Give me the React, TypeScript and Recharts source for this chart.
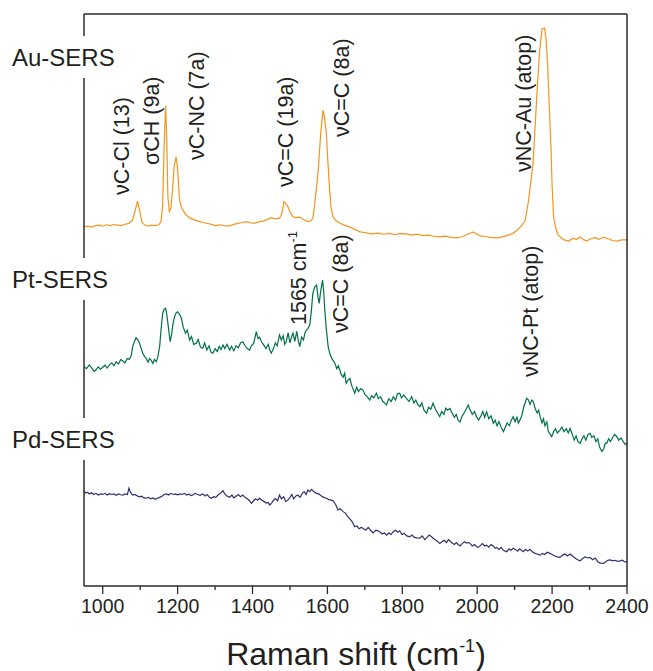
import React from 'react';
import { LineChart, Line, XAxis, YAxis } from 'recharts';

// Raman shift (cm-1) vs intensity (a.u., stacked offsets as drawn)
const auSpectrum: [number, number][] = [
  [950, 12.56], [960, 12.58], [970, 12.55], [980, 12.6], [990, 12.62], [1000, 12.58], [1010, 12.63],
  [1020, 12.6], [1030, 12.64], [1040, 12.62], [1050, 12.6], [1060, 12.65], [1070, 12.68], [1080, 12.8],
  [1087, 13.15], [1093, 13.46], [1099, 13.1], [1105, 12.72], [1112, 12.62], [1120, 12.58], [1130, 12.62],
  [1140, 12.6], [1150, 12.63], [1156, 12.75], [1160, 13.3], [1164, 15.4], [1168, 16.78], [1171, 15.6],
  [1174, 13.6], [1178, 13.09], [1182, 13.2], [1186, 13.8], [1191, 14.7], [1196, 15.01], [1200, 14.6],
  [1205, 13.5], [1210, 13.25], [1214, 13.15], [1222, 12.98], [1232, 12.87], [1245, 12.8], [1259, 12.74],
  [1270, 12.7], [1285, 12.66], [1300, 12.6], [1315, 12.63], [1330, 12.58], [1340, 12.6], [1355, 12.66],
  [1370, 12.7], [1383, 12.74], [1395, 12.7], [1405, 12.68], [1419, 12.74], [1430, 12.76], [1440, 12.82],
  [1450, 12.88], [1460, 12.84], [1472, 12.86], [1478, 13.0], [1484, 13.44], [1490, 13.35], [1495, 13.25],
  [1501, 13.05], [1508, 12.91], [1516, 12.88], [1526, 12.9], [1535, 12.82], [1545, 12.76], [1553, 12.74],
  [1558, 12.8], [1562, 12.91], [1568, 13.6], [1575, 14.44], [1582, 15.8], [1588, 16.64], [1592, 16.4],
  [1597, 15.84], [1601, 14.9], [1606, 13.85], [1610, 13.2], [1615, 12.91], [1622, 12.78], [1633, 12.69],
  [1645, 12.62], [1660, 12.55], [1675, 12.46], [1687, 12.38], [1700, 12.36], [1710, 12.33], [1721, 12.31],
  [1735, 12.34], [1750, 12.3], [1765, 12.33], [1780, 12.29], [1795, 12.32], [1811, 12.31], [1825, 12.27],
  [1840, 12.3], [1855, 12.25], [1870, 12.27], [1885, 12.23], [1900, 12.21], [1915, 12.23], [1930, 12.19],
  [1945, 12.17], [1960, 12.22], [1975, 12.3], [1989, 12.38], [1998, 12.31], [2007, 12.25], [2020, 12.22],
  [2035, 12.19], [2052, 12.17], [2065, 12.2], [2080, 12.25], [2095, 12.33], [2105, 12.42], [2115, 12.55],
  [2128, 12.77], [2137, 13.47], [2143, 14.1], [2149, 14.76], [2154, 15.9], [2159, 17.1], [2166, 18.6],
  [2173, 19.48], [2180, 19.51], [2184, 19.1], [2188, 18.25], [2192, 16.9], [2197, 15.34], [2200, 14.0],
  [2204, 12.9], [2210, 12.5], [2216, 12.28], [2222, 12.2], [2232, 12.1], [2244, 12.06], [2255, 12.15],
  [2265, 12.12], [2275, 12.2], [2285, 12.1], [2293, 12.07], [2305, 12.15], [2315, 12.18], [2325, 12.12],
  [2337, 12.2], [2350, 12.14], [2362, 12.08], [2373, 12.06], [2385, 12.1], [2400, 12.1],
];

const ptSpectrum: [number, number][] = [
  [950, 7.67], [957, 7.6], [964, 7.73], [971, 7.62], [977, 7.5], [982, 7.55], [988, 7.66], [994, 7.58],
  [1000, 7.65], [1006, 7.72], [1012, 7.62], [1018, 7.73], [1024, 7.8], [1030, 7.7], [1036, 7.84], [1042, 7.76],
  [1048, 7.92], [1053, 7.88], [1059, 7.8], [1065, 7.95], [1071, 7.93], [1076, 8.05], [1080, 8.37], [1085, 8.55],
  [1089, 8.68], [1094, 8.6], [1098, 8.49], [1103, 8.3], [1107, 8.14], [1112, 8.02], [1116, 7.96], [1121, 7.82],
  [1125, 7.95], [1129, 7.9], [1134, 7.78], [1138, 7.92], [1143, 7.84], [1147, 8.0], [1152, 8.37], [1156, 9.0],
  [1160, 9.53], [1164, 9.68], [1168, 9.71], [1171, 9.5], [1174, 9.19], [1178, 8.75], [1180, 8.54], [1184, 8.8],
  [1188, 9.2], [1192, 9.42], [1196, 9.55], [1200, 9.59], [1205, 9.5], [1210, 9.36], [1215, 9.05], [1221, 8.84],
  [1226, 8.95], [1232, 8.6], [1237, 8.72], [1243, 8.45], [1250, 8.49], [1255, 8.62], [1261, 8.35], [1267, 8.31],
  [1272, 8.5], [1278, 8.25], [1284, 8.4], [1289, 8.18], [1294, 8.14], [1300, 8.3], [1306, 8.2], [1311, 8.38],
  [1316, 8.27], [1321, 8.43], [1326, 8.3], [1332, 8.45], [1339, 8.25], [1344, 8.38], [1350, 8.22], [1356, 8.4],
  [1362, 8.33], [1368, 8.5], [1374, 8.54], [1380, 8.4], [1386, 8.3], [1392, 8.25], [1397, 8.4], [1403, 8.48],
  [1410, 8.89], [1415, 8.65], [1419, 8.7], [1424, 8.54], [1430, 8.42], [1436, 8.3], [1442, 8.45], [1446, 8.25],
  [1450, 8.14], [1456, 8.3], [1461, 8.5], [1466, 8.4], [1472, 8.78], [1477, 8.6], [1482, 8.75], [1486, 8.45],
  [1490, 8.54], [1495, 8.85], [1500, 8.5], [1504, 8.7], [1508, 8.84], [1513, 8.55], [1518, 8.9], [1522, 8.6],
  [1526, 8.37], [1531, 8.7], [1536, 8.6], [1540, 8.85], [1544, 8.95], [1548, 9.0], [1553, 9.13], [1557, 9.6],
  [1561, 10.23], [1566, 10.45], [1571, 10.52], [1575, 10.1], [1578, 9.88], [1582, 10.3], [1587, 10.7], [1590, 10.3],
  [1593, 9.65], [1597, 9.0], [1602, 8.37], [1607, 8.1], [1612, 7.95], [1620, 7.79], [1625, 7.6], [1629, 7.7],
  [1633, 7.55], [1637, 7.4], [1642, 7.3], [1646, 7.44], [1650, 7.09], [1655, 7.2], [1660, 7.26], [1664, 7.05],
  [1668, 6.9], [1673, 6.74], [1678, 6.95], [1683, 6.8], [1689, 6.9], [1695, 6.85], [1700, 6.7], [1706, 6.62],
  [1713, 6.5], [1718, 6.65], [1724, 6.58], [1731, 6.74], [1736, 6.55], [1742, 6.62], [1748, 6.45], [1753, 6.4],
  [1758, 6.33], [1764, 6.55], [1770, 6.45], [1776, 6.62], [1782, 6.5], [1787, 6.72], [1793, 6.74], [1798, 6.58],
  [1804, 6.68], [1811, 6.56], [1818, 6.45], [1825, 6.62], [1831, 6.4], [1836, 6.5], [1841, 6.35], [1847, 6.27],
  [1852, 6.4], [1858, 6.15], [1865, 6.04], [1870, 6.25], [1876, 6.18], [1882, 6.39], [1888, 6.2], [1894, 6.05],
  [1900, 5.92], [1905, 6.1], [1911, 6.0], [1916, 6.22], [1921, 6.15], [1927, 6.21], [1933, 6.05], [1939, 5.9],
  [1944, 6.0], [1949, 5.8], [1954, 5.74], [1960, 5.95], [1965, 6.05], [1971, 6.2], [1976, 6.33], [1981, 6.15],
  [1987, 6.0], [1993, 6.1], [1998, 5.92], [2004, 5.8], [2010, 5.95], [2015, 6.1], [2020, 5.9], [2025, 6.09],
  [2031, 5.85], [2037, 5.95], [2043, 5.69], [2048, 5.8], [2053, 5.6], [2058, 5.75], [2064, 5.55], [2070, 5.4],
  [2075, 5.55], [2080, 5.7], [2086, 5.6], [2091, 5.8], [2096, 5.92], [2101, 5.75], [2106, 5.9], [2110, 5.7],
  [2114, 5.8], [2119, 5.95], [2124, 6.25], [2128, 6.4], [2132, 6.56], [2137, 6.5], [2141, 6.35], [2146, 6.5],
  [2150, 6.44], [2155, 6.2], [2160, 6.05], [2164, 6.15], [2168, 5.92], [2173, 5.7], [2177, 5.85], [2181, 5.6],
  [2186, 5.74], [2190, 5.4], [2195, 5.3], [2199, 5.22], [2204, 5.4], [2209, 5.5], [2214, 5.35], [2221, 5.45],
  [2226, 5.55], [2232, 5.4], [2238, 5.5], [2243, 5.35], [2248, 5.51], [2254, 5.3], [2259, 5.1], [2264, 5.25],
  [2269, 5.05], [2275, 4.99], [2280, 5.15], [2285, 5.25], [2290, 5.1], [2296, 5.3], [2301, 5.34], [2306, 5.2],
  [2312, 5.25], [2317, 5.05], [2322, 5.15], [2327, 4.85], [2333, 4.7], [2338, 4.8], [2342, 5.0], [2346, 4.99],
  [2351, 5.15], [2356, 5.05], [2362, 5.2], [2367, 5.3], [2373, 5.22], [2378, 5.1], [2384, 5.18], [2390, 5.05],
  [2395, 4.95], [2400, 4.99],
];

const pdSpectrum: [number, number][] = [
  [950, 3.33], [955, 3.25], [960, 3.28], [964, 3.22], [970, 3.26], [976, 3.2], [982, 3.24], [988, 3.18],
  [995, 3.22], [1000, 3.2], [1006, 3.24], [1012, 3.18], [1018, 3.23], [1024, 3.2], [1030, 3.22], [1036, 3.17],
  [1042, 3.22], [1048, 3.19], [1054, 3.18], [1060, 3.22], [1066, 3.2], [1070, 3.42], [1074, 3.28], [1080, 3.18],
  [1086, 3.2], [1092, 3.15], [1098, 3.12], [1104, 3.14], [1110, 3.08], [1116, 3.07], [1122, 3.1], [1128, 3.05],
  [1134, 3.08], [1140, 3.03], [1146, 3.07], [1152, 3.1], [1158, 3.14], [1164, 3.2], [1170, 3.22], [1176, 3.18],
  [1182, 3.24], [1188, 3.2], [1194, 3.22], [1200, 3.19], [1206, 3.22], [1212, 3.2], [1218, 3.24], [1224, 3.18],
  [1230, 3.21], [1236, 3.16], [1241, 3.18], [1247, 3.24], [1253, 3.2], [1260, 3.17], [1267, 3.22], [1273, 3.15],
  [1279, 3.2], [1285, 3.1], [1290, 3.07], [1296, 3.12], [1302, 3.1], [1308, 3.18], [1314, 3.24], [1321, 3.33],
  [1326, 3.22], [1332, 3.15], [1339, 3.1], [1345, 3.18], [1350, 3.08], [1356, 3.14], [1362, 3.2], [1368, 3.12],
  [1374, 3.18], [1380, 3.1], [1386, 3.05], [1391, 3.0], [1397, 2.89], [1403, 2.98], [1408, 3.05], [1414, 3.0],
  [1419, 3.07], [1425, 3.0], [1431, 2.95], [1437, 2.9], [1442, 2.92], [1446, 2.83], [1451, 2.9], [1456, 3.0],
  [1461, 3.06], [1467, 2.98], [1472, 3.18], [1477, 3.05], [1483, 3.12], [1489, 2.95], [1495, 3.01], [1500, 3.1],
  [1505, 3.2], [1510, 3.05], [1516, 3.15], [1521, 3.18], [1527, 3.1], [1533, 3.24], [1538, 3.3], [1543, 3.2],
  [1548, 3.36], [1553, 3.3], [1558, 3.38], [1563, 3.3], [1571, 3.24], [1577, 3.22], [1584, 3.15], [1590, 3.1],
  [1597, 3.07], [1604, 3.02], [1610, 3.0], [1615, 2.98], [1622, 2.85], [1628, 2.66], [1634, 2.7], [1642, 2.6],
  [1648, 2.55], [1655, 2.42], [1660, 2.35], [1666, 2.25], [1673, 2.07], [1679, 2.1], [1684, 2.0], [1690, 2.05],
  [1695, 2.02], [1702, 1.95], [1709, 2.05], [1715, 1.95], [1722, 1.86], [1729, 1.95], [1735, 1.93], [1741, 1.88],
  [1747, 1.82], [1752, 1.86], [1758, 1.78], [1764, 1.85], [1770, 1.8], [1776, 1.9], [1782, 1.95], [1788, 1.88],
  [1793, 1.93], [1799, 1.8], [1805, 1.84], [1812, 1.75], [1820, 1.72], [1826, 1.78], [1832, 1.7], [1839, 1.68],
  [1847, 1.67], [1853, 1.75], [1860, 1.62], [1866, 1.7], [1872, 1.78], [1878, 1.72], [1884, 1.65], [1890, 1.6],
  [1895, 1.55], [1900, 1.49], [1906, 1.55], [1912, 1.6], [1918, 1.52], [1923, 1.62], [1927, 1.58], [1933, 1.5],
  [1939, 1.45], [1944, 1.52], [1949, 1.45], [1954, 1.4], [1960, 1.48], [1966, 1.55], [1972, 1.5], [1977, 1.52],
  [1981, 1.49], [1987, 1.4], [1993, 1.45], [1998, 1.38], [2003, 1.35], [2009, 1.42], [2014, 1.48], [2020, 1.4],
  [2025, 1.43], [2031, 1.36], [2037, 1.45], [2043, 1.4], [2048, 1.32], [2052, 1.35], [2058, 1.28], [2064, 1.35],
  [2070, 1.25], [2075, 1.22], [2079, 1.2], [2085, 1.3], [2090, 1.25], [2096, 1.32], [2102, 1.28], [2108, 1.22],
  [2113, 1.3], [2118, 1.25], [2123, 1.2], [2129, 1.28], [2135, 1.22], [2141, 1.28], [2147, 1.2], [2153, 1.15],
  [2160, 1.12], [2168, 1.08], [2174, 1.14], [2180, 1.1], [2187, 1.18], [2194, 1.14], [2200, 1.1], [2207, 1.05],
  [2214, 1.02], [2221, 1.0], [2228, 1.08], [2234, 1.12], [2241, 1.05], [2248, 1.12], [2254, 1.06], [2261, 0.98],
  [2268, 0.92], [2275, 0.88], [2281, 0.95], [2288, 1.02], [2295, 0.98], [2301, 1.0], [2308, 0.92], [2315, 0.98],
  [2322, 0.85], [2329, 0.8], [2337, 0.79], [2343, 0.85], [2349, 0.9], [2355, 0.91], [2362, 0.88], [2368, 0.9],
  [2375, 0.86], [2382, 0.88], [2388, 0.9], [2394, 0.84], [2400, 0.85],
];

const shiftTicks = [1000, 1100, 1200, 1300, 1400, 1500, 1600, 1700, 1800, 1900, 2000, 2100, 2200, 2300, 2400];
const leftTicks = [0, 1, 2, 3, 4, 5, 6, 7, 8, 9, 10, 11, 12, 13, 14, 15, 16, 17, 18, 19, 20];
const rightTicks = [0, 1, 2, 3, 4, 5, 6, 7, 8, 9, 10, 11, 12, 13, 14, 15, 16, 17, 18, 19];

const sampleLabels = [
  { text: 'Au-SERS', y: 66 },
  { text: 'Pt-SERS', y: 288 },
  { text: 'Pd-SERS', y: 448 },
];

// rotated band assignments: x = baseline, y = where the text starts (bottom)
const bandLabels = [
  { text: 'νC-Cl (13)', x: 129, y: 195 },
  { text: 'σCH (9a)', x: 159, y: 165 },
  { text: 'νC-NC (7a)', x: 204, y: 160 },
  { text: 'νC=C (19a)', x: 293, y: 187 },
  { text: 'νC=C (8a)', x: 349, y: 137 },
  { text: 'νNC-Au (atop)', x: 531, y: 172 },
  { text: 'νC=C (8a)', x: 348, y: 333 },
  { text: 'νNC-Pt (atop)', x: 538, y: 377 },
];

const W = 653;
const H = 671;
const font = '"Liberation Sans", Arial, Helvetica, sans-serif';
const ink = '#231f20';
const frame = '#2b2b2b';

const toRows = (pts: [number, number][]) => pts.map(([w, v]) => ({ w, v }));

const BottomTick = (props: any) => {
  const { x, y, payload } = props;
  const major = payload.value % 200 === 0;
  return (
    <g>
      <line x1={x} x2={x} y1={y} y2={y + (major ? 8 : 4)} stroke={frame} strokeWidth={1.3} />
      {major && (
        <text x={x} y={y + 27} textAnchor="middle" fontSize={19.5} fill={ink} fontFamily={font}>
          {payload.value}
        </text>
      )}
    </g>
  );
};

const App: React.FC = () => {
  return (
    <div style={{ position: 'absolute', left: 0, top: 0, width: W, height: H, background: '#fff' }}>
      <LineChart width={W} height={H} margin={{ top: 14, right: 25, bottom: 84, left: 84 }}>
        <XAxis
          xAxisId="b"
          dataKey="w"
          type="number"
          domain={[950, 2400]}
          ticks={shiftTicks}
          interval={0}
          allowDataOverflow
          height={1}
          tickSize={0}
          tickMargin={0}
          tickLine={false}
          tick={<BottomTick />}
          axisLine={{ stroke: frame, strokeWidth: 1.5 }}
        />
        <XAxis
          xAxisId="t"
          orientation="top"
          dataKey="w"
          type="number"
          domain={[950, 2400]}
          ticks={shiftTicks}
          interval={0}
          allowDataOverflow
          height={1}
          mirror
          tickSize={4}
          tick={false}
          tickLine={{ stroke: frame }}
          axisLine={{ stroke: frame, strokeWidth: 1.5 }}
        />
        <YAxis
          yAxisId="l"
          type="number"
          domain={[0, 20]}
          ticks={leftTicks}
          interval={0}
          width={1}
          mirror
          tickSize={3}
          tick={false}
          tickLine={{ stroke: frame }}
          axisLine={{ stroke: frame, strokeWidth: 1.5 }}
        />
        <YAxis
          yAxisId="r"
          orientation="right"
          type="number"
          domain={[0, 19]}
          ticks={rightTicks}
          interval={0}
          width={1}
          tickSize={4}
          tick={false}
          tickLine={{ stroke: frame }}
          axisLine={{ stroke: frame, strokeWidth: 1.5 }}
        />
        <Line data={toRows(auSpectrum)} dataKey="v" xAxisId="b" yAxisId="l" type="linear"
          stroke="#f7941d" strokeWidth={1.2} dot={false} isAnimationActive={false} />
        <Line data={toRows(ptSpectrum)} dataKey="v" xAxisId="b" yAxisId="l" type="linear"
          stroke="#00704a" strokeWidth={1.2} dot={false} isAnimationActive={false} />
        <Line data={toRows(pdSpectrum)} dataKey="v" xAxisId="b" yAxisId="l" type="linear"
          stroke="#2e3070" strokeWidth={1.2} dot={false} isAnimationActive={false} />
      </LineChart>

      <svg width={W} height={H} style={{ position: 'absolute', left: 0, top: 0, pointerEvents: 'none' }}>
        {sampleLabels.map((s) => (
          <g key={s.text}>
            <rect x={8} y={s.y - 30} width={110} height={42} fill="#fff" />
            <text x={12} y={s.y} fontSize={24} fill={ink} fontFamily={font}>{s.text}</text>
          </g>
        ))}
        {bandLabels.map((b, i) => (
          <text key={i} x={b.x} y={b.y} fontSize={21.5} fill={ink} fontFamily={font}
            transform={`rotate(-90 ${b.x} ${b.y})`}>
            {b.text}
          </text>
        ))}
        <text x={306} y={325} fontSize={21.5} fill={ink} fontFamily={font} transform="rotate(-90 306 325)">
          1565 cm<tspan fontSize={13} dy={-9}>-1</tspan>
        </text>
        <text x={356} y={665} textAnchor="middle" fontSize={32} fill={ink} fontFamily={font}>
          Raman shift (cm<tspan fontSize={18} dy={-13}>-1</tspan><tspan dy={13}>)</tspan>
        </text>
      </svg>
    </div>
  );
};

export default App;
